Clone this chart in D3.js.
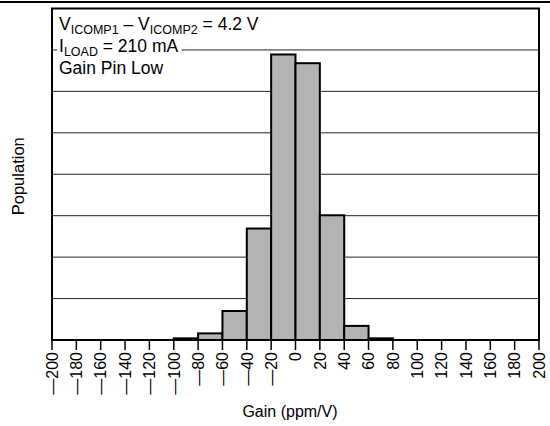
<!DOCTYPE html>
<html>
<head>
<meta charset="utf-8">
<script src="https://cdn.jsdelivr.net/npm/d3@7"></script>
<style>
body { margin: 0; background: #fff; }
text { font-family: "Liberation Sans", Arial, sans-serif; fill: #000; }
</style>
</head>
<body>
<script>
// histogram bins (lower edge, ppm/V) and bar heights in grid units
var binStart = [-100, -80, -60, -40, -20, 0, 20, 40, 60];
var binWidth = 20;
var counts = [0.04, 0.16, 0.70, 2.69, 6.89, 6.68, 3.01, 0.34, 0.04];
var xTicks = d3.range(-200, 201, 20);
var gridLevels = d3.range(1, 8);

var width = 550, height = 426;
var margin = { top: 8.5, right: 11, bottom: 86, left: 52 };

var x = d3.scaleLinear().domain([-200, 200]).range([margin.left, width - margin.right]),
	y = d3.scaleLinear().domain([0, 8]).range([height - margin.bottom, margin.top]);

var svg = d3.select("body").append("svg")
	.attr("width", width)
	.attr("height", height);

// rule across the top of the page
svg.append("line")
	.attr("x1", 0).attr("x2", width)
	.attr("y1", 2).attr("y2", 2)
	.attr("stroke", "#000").attr("stroke-width", 2);

// grid
svg.append("g").selectAll("line")
	.data(gridLevels)
	.enter().append("line")
	.attr("x1", x(-200)).attr("x2", x(200))
	.attr("y1", function (d) { return y(d); })
	.attr("y2", function (d) { return y(d); })
	.attr("stroke", "#222").attr("stroke-width", 1);

// bars
svg.append("g").selectAll("rect")
	.data(counts)
	.enter().append("rect")
	.attr("x", function (d, i) { return x(binStart[i]); })
	.attr("width", function (d, i) { return x(binStart[i] + binWidth) - x(binStart[i]); })
	.attr("y", function (d) { return y(d); })
	.attr("height", function (d) { return y(0) - y(d); })
	.attr("fill", "#b3b3b3")
	.attr("stroke", "#000")
	.attr("stroke-width", 2);

// frame
svg.append("rect")
	.attr("x", x(-200)).attr("y", y(8))
	.attr("width", x(200) - x(-200))
	.attr("height", y(0) - y(8))
	.attr("fill", "none")
	.attr("stroke", "#000")
	.attr("stroke-width", 2);

// x ticks
var tick = svg.append("g").selectAll("g")
	.data(xTicks)
	.enter().append("g")
	.attr("transform", function (d) { return "translate(" + x(d) + "," + y(0) + ")"; });

tick.append("line")
	.attr("y1", 0).attr("y2", 10)
	.attr("stroke", "#000").attr("stroke-width", 1.5);

tick.append("text")
	.attr("transform", "rotate(-90)")
	.attr("x", -12)
	.attr("dy", "0.36em")
	.attr("text-anchor", "end")
	.style("font-size", "16px")
	.text(function (d) { return d < 0 ? "\u2014" + Math.abs(d) : d; });

// axis titles
svg.append("text")
	.attr("x", 290).attr("y", 417)
	.attr("text-anchor", "middle")
	.style("font-size", "16px")
	.text("Gain (ppm/V)");

svg.append("text")
	.attr("transform", "translate(24," + (y(4) + 2) + ")rotate(-90)")
	.attr("text-anchor", "middle")
	.style("font-size", "16.5px")
	.text("Population");

// conditions note
var note = svg.append("g");
var lines = [
	[["V", 0], ["ICOMP1", 1], [" \u2013 V", 0], ["ICOMP2", 1], [" = 4.2 V", 0]],
	[["I", 0], ["LOAD", 1], [" = 210 mA", 0]],
	[["Gain Pin Low", 0]]
];
var baselines = [29.5, 51.5, 73.5];

lines.forEach(function (parts, i) {
	var bg = note.append("rect").attr("fill", "#fff");
	var t = note.append("text")
		.attr("x", 59).attr("y", baselines[i])
		.style("font-size", "17.5px");
	var sub = false;
	parts.forEach(function (p) {
		var s = t.append("tspan").text(p[0]);
		if (p[1] && !sub) { s.attr("dy", 4).style("font-size", "12.5px"); sub = true; }
		else if (!p[1] && sub) { s.attr("dy", -4); sub = false; }
	});
	var b = t.node().getBBox();
	bg.attr("x", b.x - 2).attr("y", b.y)
		.attr("width", b.width + 5).attr("height", b.height);
});
</script>
</body>
</html>
